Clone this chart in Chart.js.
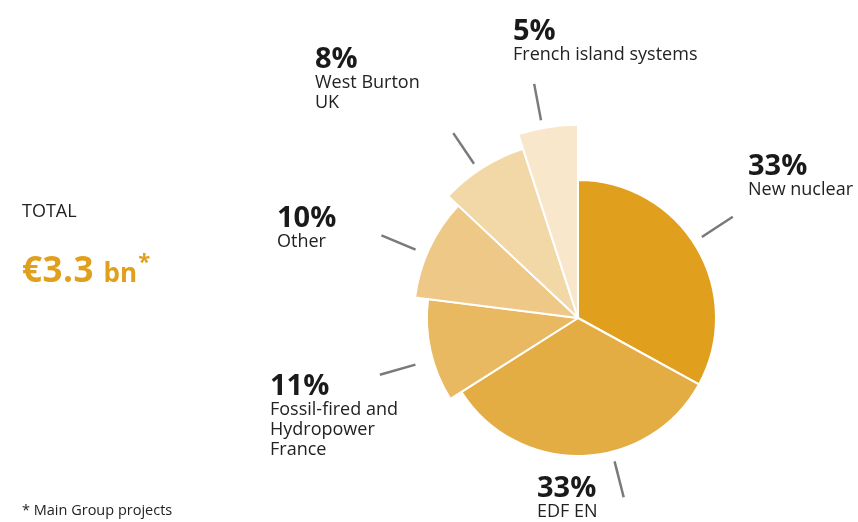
<!DOCTYPE html>
<html>
<head>
<meta charset="utf-8">
<script src="https://cdn.jsdelivr.net/npm/chart.js@4.4.0/dist/chart.umd.min.js"></script>
<style>
    html, body { margin: 0; padding: 0; background: #fff; }
    #wrap { position: relative; width: 858px; height: 522px; font-family: "Open Sans", sans-serif; }
    #wrap canvas { position: absolute; left: 0; top: 0; }
    .side { position: absolute; left: 22px; white-space: nowrap; line-height: 1; }
    .total { top: 201px; font-size: 18px; color: #222; }
    .amount { top: 249px; font-size: 35px; font-weight: 700; color: #E09F1C; letter-spacing: 0.5px; }
    .amount .unit { font-size: 26px; font-weight: 700; letter-spacing: 0; }
    .amount sup { font-size: 22px; font-weight: 700; vertical-align: 13px; margin-left: 1px; }
    .note { top: 503px; font-size: 14.5px; color: #222; }
</style>
</head>
<body>
<div id="wrap">
    <canvas id="shareChart" width="858" height="522"></canvas>
    <div class="side total">TOTAL</div>
    <div class="side amount">€3.3 <span class="unit">bn</span><sup>*</sup></div>
    <div class="side note">* Main Group projects</div>
</div>

<script>
// data
const categories = [
    ['New nuclear'],
    ['EDF EN'],
    ['Fossil-fired and', 'Hydropower', 'France'],
    ['Other'],
    ['West Burton', 'UK'],
    ['French island systems']
];
const shares = [33, 33, 11, 10, 8, 5];

// styling
const sliceColors = ['#E09F1C', '#E4AD44', '#E9B961', '#EEC886', '#F2D7A7', '#F8E7CA'];
const radiusScale = [1, 1, 1.095, 1.19, 1.29, 1.4];   // smaller slices stick out further
const labelAnchor = [[748, 175], [537, 497], [270, 395], [277, 227], [315, 68], [513, 40]];
const leaderTweak = [-2.6, -12.5, -3.4, -2.4, -1.6, -1.6];  // degrees off the slice middle
const leaderGap = [10, 10, 18, 12, 8, 8];
const leaderLen = 37;

// stretch each arc to its own radius
const stepRadius = {
    id: 'stepRadius',
    beforeDatasetsDraw(chart) {
        const meta = chart.getDatasetMeta(0);
        const base = meta.controller.outerRadius;
        meta.data.forEach((arc, i) => {
            arc.outerRadius = base * radiusScale[i];
        });
    }
};

// percentages, names and leader lines
const sliceLabels = {
    id: 'sliceLabels',
    afterDatasetsDraw(chart) {
        const ctx = chart.ctx;
        const meta = chart.getDatasetMeta(0);
        ctx.save();
        meta.data.forEach((arc, i) => {
            const a = (arc.startAngle + arc.endAngle) / 2 + leaderTweak[i] * Math.PI / 180;
            const r0 = arc.outerRadius + leaderGap[i];
            const r1 = r0 + leaderLen;
            ctx.beginPath();
            ctx.moveTo(arc.x + Math.cos(a) * r0, arc.y + Math.sin(a) * r0);
            ctx.lineTo(arc.x + Math.cos(a) * r1, arc.y + Math.sin(a) * r1);
            ctx.strokeStyle = '#7a7a7a';
            ctx.lineWidth = 2.5;
            ctx.stroke();

            const [x, y] = labelAnchor[i];
            ctx.textAlign = 'left';
            ctx.textBaseline = 'alphabetic';
            ctx.fillStyle = '#1a1a1a';
            ctx.font = '700 29px "Open Sans", sans-serif';
            ctx.fillText(shares[i] + '%', x, y);
            ctx.font = '400 18px "Open Sans", sans-serif';
            ctx.fillStyle = '#222';
            chart.data.labels[i].forEach((line, k) => {
                ctx.fillText(line, x, y + 20 + 20 * k);
            });
        });
        ctx.restore();
    }
};

new Chart(document.getElementById('shareChart'), {
    type: 'pie',
    data: {
        labels: categories,
        datasets: [{
            data: shares,
            backgroundColor: sliceColors,
            borderColor: '#ffffff',
            borderWidth: 2
        }]
    },
    options: {
        responsive: false,
        animation: false,
        events: [],
        layout: {
            padding: { left: 439, right: 141, top: 179, bottom: 65 }
        },
        plugins: {
            legend: { display: false },
            tooltip: { enabled: false }
        }
    },
    plugins: [stepRadius, sliceLabels]
});
</script>
</body>
</html>
